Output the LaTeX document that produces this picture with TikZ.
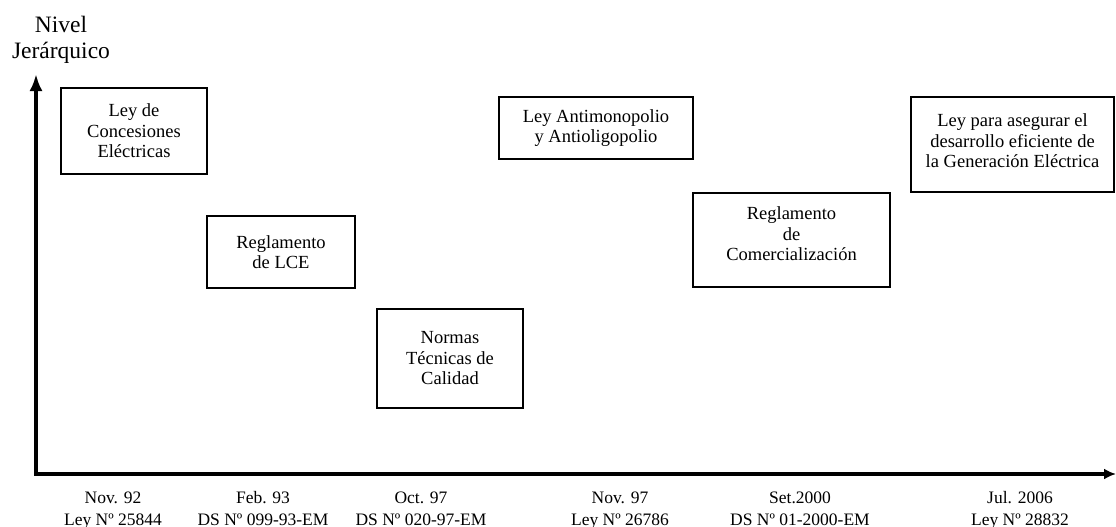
\documentclass[tikz,border=0pt]{standalone}
\usepackage{fontspec}
\setmainfont{Liberation Serif}
\usetikzlibrary{arrows.meta}

\tikzset{
  law/.style={draw=black, line width=1.4pt, align=center, inner sep=0pt,
    font=\fontsize{18.5}{20.5}\selectfont},
  lawtext/.style={align=center, inner sep=0pt,
    font=\fontsize{18.5}{20.5}\selectfont},
  datelabel/.style={align=center, inner sep=0pt, anchor=north,
    font=\fontsize{17.5}{22}\selectfont},
  axislabel/.style={align=center, inner sep=0pt, anchor=north,
    font=\fontsize{23.5}{26}\selectfont},
  axisline/.style={line width=3.4pt, line cap=butt},
}

\begin{document}
\begin{tikzpicture}[x=1pt, y=-1pt]
  \useasboundingbox (0,0) rectangle (1116,527);
  \fill[white] (0,0) rectangle (1116,527);

  % axes
  \coordinate (origin) at (36,474);
  \coordinate (ytip) at (36,74);
  \coordinate (xtip) at (1116,474);
  \draw[axisline, -{Latex[length=17pt, width=13pt]}] ([yshift=1.7pt]origin) -- (ytip);
  \draw[axisline, -{Latex[length=12pt, width=11pt]}] ([xshift=-1.7pt]origin) -- (xtip);

  \node[axislabel] (ylab) at (61,13.8) {\strut Nivel\\Jerárquico};

  % legal instruments, placed by date and hierarchical level
  \node[law, minimum width=146pt, minimum height=86pt] (lce) at (134,131)
    {Ley de\\Concesiones\\Eléctricas};
  \node[law, minimum width=148pt, minimum height=72pt] (reglce) at (281,252)
    {Reglamento\\de LCE};
  \node[law, minimum width=146pt, minimum height=99pt] (ntc) at (450,358.5)
    {Normas\\Técnicas de\\Calidad};
  \node[law, minimum width=194pt, minimum height=62pt] (antimon) at (596,128)
    {Ley Antimonopolio\\y Antioligopolio};
  \node[law, minimum width=197pt, minimum height=94pt] (regcom) at (791.5,240) {};
  \node[lawtext] (regcomtxt) at (791.5,234) {Reglamento\\de\\Comercialización};
  \node[law, minimum width=203pt, minimum height=95pt] (gen) at (1012.5,144.5) {};
  \node[lawtext] (gentxt) at (1012.5,141)
    {Ley para asegurar el\\desarrollo eficiente de\\la Generación Eléctrica};

  % dates and norms along the time axis
  \node[datelabel] (d1) at (113,487.6) {\strut Nov. 92\\Ley Nº 25844};
  \node[datelabel] (d2) at (263,487.6) {\strut Feb. 93\\DS Nº 099-93-EM};
  \node[datelabel] (d3) at (421,487.6) {\strut Oct. 97\\DS Nº 020-97-EM};
  \node[datelabel] (d4) at (620,487.6) {\strut Nov. 97\\Ley Nº 26786};
  \node[datelabel] (d5) at (800,487.6) {\strut Set.2000\\DS Nº 01-2000-EM};
  \node[datelabel] (d6) at (1020,487.6) {\strut Jul. 2006\\Ley Nº 28832};
\end{tikzpicture}
\end{document}
